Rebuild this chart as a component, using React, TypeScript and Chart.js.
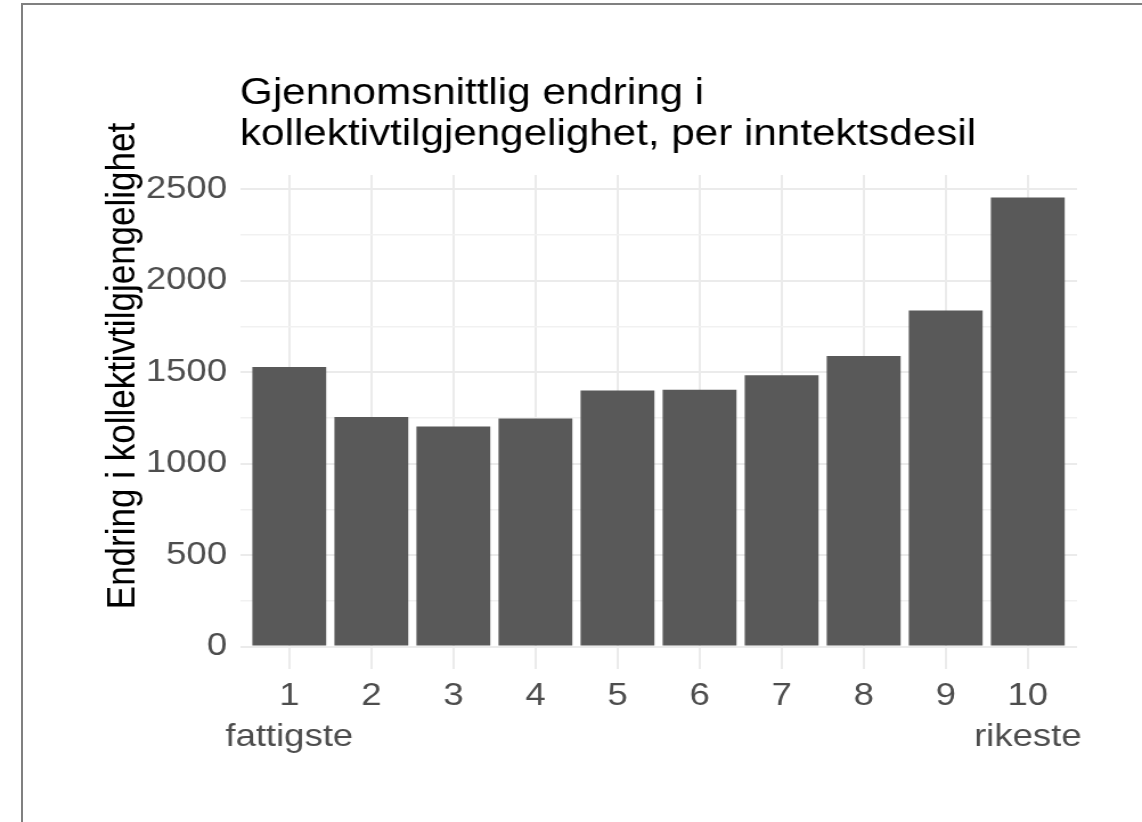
import React, { useEffect, useRef } from "react";
import { Chart, registerables } from "chart.js";

Chart.register(...registerables);

const categories = [1, 2, 3, 4, 5, 6, 7, 8, 9, 10];
const values = [1527, 1254, 1203, 1246, 1399, 1403, 1483, 1588, 1836, 2454];
const xTickLabels: (string | string[])[] = [
  ["1", "fattigste"], "2", "3", "4", "5", "6", "7", "8", "9", ["10", "rikeste"],
];
const yTicks = [0, 250, 500, 750, 1000, 1250, 1500, 1750, 2000, 2250, 2500];
const yLabelEvery = 500;
const xRange = [0.4, 10.6];
const yRange = [-122.7, 2576.7];
const titleLines = ["Gjennomsnittlig endring i", "kollektivtilgjengelighet, per inntektsdesil"];
const yTitle = "Endring i kollektivtilgjengelighet";

const STRETCH = 1.1397;
const W = 1002;
const H = 822;
const FONT = '"Liberation Sans", Arial, Helvetica, sans-serif';

export default function App() {
  const ref = useRef<HTMLCanvasElement | null>(null);
  useEffect(() => {
    const canvas = ref.current!;
    const textPlugin = {
      id: "texts",
      afterDraw(chart: any) {
        const ctx = chart.ctx;
        const area = chart.chartArea;
        ctx.save();
        ctx.fillStyle = "#000000";
        ctx.font = `37px ${FONT}`;
        ctx.textAlign = "left";
        ctx.textBaseline = "alphabetic";
        ctx.fillText(titleLines[0], area.left, 104);
        ctx.fillText(titleLines[1], area.left, 145);
        ctx.font = `35px ${FONT}`;
        ctx.translate(117.5, 366);
        ctx.rotate(-Math.PI / 2);
        ctx.textAlign = "center";
        ctx.fillText(yTitle, 0, 0);
        ctx.restore();
      },
    };
    const chart = new Chart(canvas, {
      type: "bar",
      data: {
        datasets: [
          {
            data: categories.map((c, i) => ({ x: c, y: values[i] })),
            backgroundColor: "#595959",
            borderWidth: 0,
            barPercentage: 0.9,
            categoryPercentage: 1,
          },
        ],
      },
      options: {
        responsive: false,
        animation: false,
        devicePixelRatio: 1,
        layout: { padding: { left: 0, top: 175, right: 57, bottom: 0 } },
        plugins: { legend: { display: false }, tooltip: { enabled: false }, title: { display: false } },
        scales: {
          x: {
            type: "linear",
            min: xRange[0],
            max: xRange[1],
            offset: false,
            afterBuildTicks: (scale: any) => {
              scale.ticks = categories.map((v) => ({ value: v }));
            },
            afterFit: (scale: any) => {
              scale.height = H - 669;
            },
            ticks: {
              autoSkip: false,
              maxRotation: 0,
              padding: 7,
              color: "#4d4d4d",
              font: { family: FONT, size: 32, lineHeight: 1.28 },
              callback: (_v: any, i: number) => xTickLabels[i],
            },
            grid: { color: "#ebebeb", lineWidth: 2, drawTicks: false, offset: false },
            border: { display: false },
          },
          y: {
            type: "linear",
            min: yRange[0],
            max: yRange[1],
            afterBuildTicks: (scale: any) => {
              scale.ticks = yTicks.map((v) => ({ value: v }));
            },
            afterFit: (scale: any) => {
              scale.width = 210.6;
            },
            ticks: {
              autoSkip: false,
              padding: 11.4,
              color: "#4d4d4d",
              font: { family: FONT, size: 32 },
              callback: (v: any) => (v % yLabelEvery === 0 ? String(v) : ""),
            },
            grid: {
              color: (c: any) => (c.tick && c.tick.value % yLabelEvery === 0 ? "#ebebeb" : "#f1f1f1"),
              lineWidth: (c: any) => (c.tick && c.tick.value % yLabelEvery === 0 ? 2 : 1.5),
              drawTicks: false,
            },
            border: { display: false },
          },
        },
      },
      plugins: [textPlugin],
    } as any);
    return () => chart.destroy();
  }, []);

  return (
    <div
      style={{
        position: "fixed",
        left: 0,
        top: 0,
        width: 1142,
        height: 822,
        overflow: "hidden",
        background: "#ffffff",
      }}
    >
      <div style={{ position: "absolute", left: 0, top: 0, transform: `scaleX(${STRETCH})`, transformOrigin: "0 0" }}>
        <canvas ref={ref} width={W} height={H} style={{ width: W, height: H, display: "block" }} />
      </div>
      <div
        style={{
          position: "absolute",
          left: 21,
          top: 3,
          width: 1300,
          height: 1000,
          border: "2px solid #808080",
          boxSizing: "border-box",
        }}
      />
    </div>
  );
}
